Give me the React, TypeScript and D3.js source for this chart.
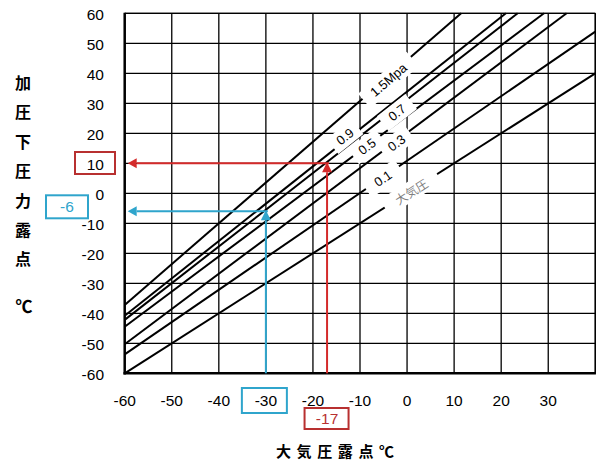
import React from "react";
import * as d3 from "d3";

// ---- data ----
const xGridValues = [-60, -50, -40, -30, -20, -10, 0, 10, 20, 30, 40];
const xTickLabels = [-60, -50, -40, -30, -20, -10, 0, 10, 20, 30];
const yTickValues = [60, 50, 40, 30, 20, 10, 0, -10, -20, -30, -40, -50, -60];

const seriesNames = ["1.5Mpa", "0.9", "0.7", "0.5", "0.3", "0.1", "大気圧"];
const startX = [-60, -60, -60, -60, -60, -60, -60];
const startY = [-37.2, -40.8, -42.2, -44.5, -50.3, -53.7, -60];
const endX = [11.5, 21.0, 23.5, 29.1, 33.9, 40, 40];
const endY = [60, 60, 60, 60, 60, 53.9, 40];

// label anchors (data coords)
const labelX = [-3.94, -13.19, -2.14, -8.51, -2.24, -5.12, 0.84];
const labelY = [37.77, 18.9, 26.9, 15.6, 16.77, 4.93, 0.77];

// worked examples
const redExample = { x: -17, y: 10 };
const blueExample = { x: -30, y: -6 };

const yTitleChars = ["加", "圧", "下", "圧", "力", "露", "点"];
const xTitleChars = ["大", "気", "圧", "露", "点", "℃"];

const RED = "#d42a2a";
const BOX_RED = "#b83030";
const BLUE = "#2fa5cc";

export default function App() {
  const W = 612, H = 471;
  const x = d3.scaleLinear().domain([-60, 40]).range([124.7, 595.3]);
  const y = d3.scaleLinear().domain([-60, 60]).range([373.3, 13.3]);
  const left = x(-60), right = x(40), top = y(60), bottom = y(-60);
  const lineGen = d3.line<[number, number]>().x(d => x(d[0])).y(d => y(d[1]));
  const tickFont = "'Liberation Sans', Arial, sans-serif";
  const cjk = "'Noto Sans CJK JP', sans-serif";

  const boxW = [64, 32, 36, 34, 34, 40, 62];
  const boxH = 19;

  const series = seriesNames.map((name, i) => {
    const p1: [number, number] = [startX[i], startY[i]];
    const p2: [number, number] = [endX[i], endY[i]];
    const ang = (Math.atan2(y(p2[1]) - y(p1[1]), x(p2[0]) - x(p1[0])) * 180) / Math.PI;
    return { name, pts: [p1, p2], ang, lx: x(labelX[i]), ly: y(labelY[i]), w: boxW[i] };
  });

  const ah = 9; // arrowhead length
  const aw = 5; // arrowhead half width

  const arrow = (ex: { x: number; y: number }, color: string) => {
    const px = x(ex.x), py = y(ex.y);
    const tipL = left + 3;
    return (
      <g>
        <line x1={px} y1={bottom} x2={px} y2={py + ah} stroke={color} strokeWidth={2} />
        <path d={`M${px},${py - 1} L${px - aw},${py + ah} L${px + aw},${py + ah} Z`} fill={color} />
        <line x1={px + 2} y1={py} x2={tipL + ah} y2={py} stroke={color} strokeWidth={2} />
        <path d={`M${tipL},${py} L${tipL + ah},${py - aw} L${tipL + ah},${py + aw} Z`} fill={color} />
      </g>
    );
  };

  return (
    <svg width={W} height={H} style={{ position: "absolute", left: 0, top: 0, background: "#fff" }}>
      <rect x={0} y={0} width={W} height={H} fill="#fff" />
      {/* grid */}
      {xGridValues.map(v => (
        <line key={"gx" + v} x1={x(v)} x2={x(v)} y1={top} y2={bottom} stroke="#000" strokeWidth={1.3} />
      ))}
      {yTickValues.map(v => (
        <line key={"gy" + v} x1={left} x2={right} y1={y(v)} y2={y(v)} stroke="#000" strokeWidth={1.3} />
      ))}
      {/* series lines */}
      {series.map(s => (
        <path key={"l" + s.name} d={lineGen(s.pts as [number, number][]) || ""} stroke="#000" strokeWidth={2} fill="none" />
      ))}
      {/* label boxes */}
      {series.map(s => (
        <g key={"b" + s.name} transform={`translate(${s.lx},${s.ly}) rotate(${s.ang})`}>
          <rect x={-s.w / 2} y={-boxH / 2} width={s.w} height={boxH} fill="#fff" />
        </g>
      ))}
      {series.map((s, i) => (
        <g key={"t" + s.name} transform={`translate(${s.lx},${s.ly}) rotate(${s.ang})`}>
          <text
            textAnchor="middle"
            dominantBaseline="central"
            fontFamily={i === 6 ? cjk : tickFont}
            fontSize={i === 6 ? 12 : 13}
            fill={i === 6 ? "#808080" : "#000"}
          >
            {s.name}
          </text>
        </g>
      ))}
      {/* frame */}
      <line x1={left} x2={right} y1={top} y2={top} stroke="#000" strokeWidth={1.3} />
      <line x1={right} x2={right} y1={top} y2={bottom} stroke="#000" strokeWidth={1.3} />
      <line x1={left} x2={left} y1={top - 0.6} y2={bottom + 1.2} stroke="#000" strokeWidth={2.5} />
      <line x1={left - 1.2} x2={right + 0.6} y1={bottom} y2={bottom} stroke="#000" strokeWidth={2.5} />

      {/* arrows */}
      {arrow(redExample, RED)}
      {arrow(blueExample, BLUE)}

      {/* y tick labels */}
      {yTickValues.map(v => (
        <text key={"ty" + v} x={104} y={y(v) + 1.5} textAnchor="end" dominantBaseline="central" fontFamily={tickFont} fontSize={15.5} fill="#000">
          {v}
        </text>
      ))}
      {/* x tick labels */}
      {xTickLabels.map(v => (
        <text key={"tx" + v} x={x(v)} y={400} textAnchor="middle" dominantBaseline="central" fontFamily={tickFont} fontSize={15.5} fill="#000">
          {v}
        </text>
      ))}

      {/* highlight boxes */}
      <rect x={75} y={y(redExample.y) - 11.3} width={40} height={22} fill="none" stroke={BOX_RED} strokeWidth={2} />
      <rect x={46} y={y(blueExample.y) - 16} width={42} height={23} fill="none" stroke={BLUE} strokeWidth={2} />
      <text x={67} y={y(blueExample.y) - 4.5} textAnchor="middle" dominantBaseline="central" fontFamily={tickFont} fontSize={15.5} fill={BLUE}>
        {blueExample.y}
      </text>
      <rect x={x(blueExample.x) - 24} y={388} width={45} height={25} fill="none" stroke={BLUE} strokeWidth={2} />
      <rect x={x(redExample.x) - 22.5} y={408} width={44} height={21} fill="none" stroke={BOX_RED} strokeWidth={2} />
      <text x={x(redExample.x)} y={418.5} textAnchor="middle" dominantBaseline="central" fontFamily={tickFont} fontSize={15.5} fill={BOX_RED}>
        {redExample.x}
      </text>

      {/* y axis title */}
      {yTitleChars.map((c, i) => (
        <text key={"yt" + i} x={23} y={82 + i * 29.4} textAnchor="middle" dominantBaseline="central" fontFamily={cjk} fontWeight={700} fontSize={16} fill="#000">
          {c}
        </text>
      ))}
      <text x={24} y={305} textAnchor="middle" dominantBaseline="central" fontFamily={cjk} fontWeight={700} fontSize={17} fill="#000">
        ℃
      </text>
      {/* x axis title */}
      {xTitleChars.map((c, i) => (
        <text key={"xt" + i} x={283.5 + i * 20.6} y={450} textAnchor="middle" dominantBaseline="central" fontFamily={cjk} fontWeight={700} fontSize={15} fill="#000">
          {c}
        </text>
      ))}
    </svg>
  );
}
